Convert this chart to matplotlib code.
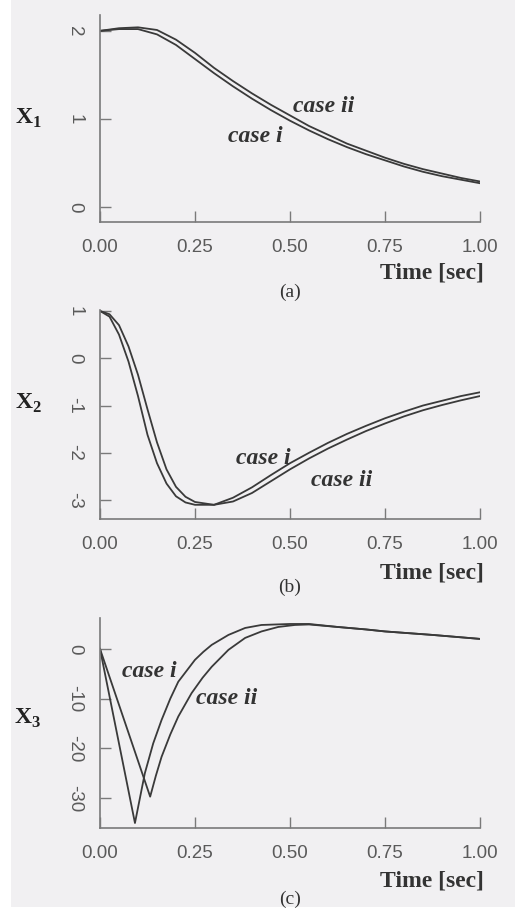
import matplotlib
matplotlib.use("Agg")
import matplotlib.pyplot as plt
from matplotlib.patches import Rectangle

# ----------------------------
# Data
# ----------------------------
t_a = [0.00, 0.05, 0.10, 0.15, 0.20, 0.25, 0.30, 0.35, 0.40, 0.45, 0.50,
       0.55, 0.60, 0.65, 0.70, 0.75, 0.80, 0.85, 0.90, 0.95, 1.00]
x1_case_i = [2.00, 2.02, 2.02, 1.96, 1.84, 1.68, 1.52, 1.37, 1.23, 1.10, 0.98,
             0.87, 0.77, 0.68, 0.60, 0.53, 0.46, 0.40, 0.35, 0.31, 0.27]
x1_case_ii = [2.00, 2.03, 2.04, 2.01, 1.90, 1.75, 1.58, 1.43, 1.29, 1.16, 1.04,
              0.92, 0.82, 0.72, 0.64, 0.56, 0.49, 0.43, 0.38, 0.33, 0.29]

t_b = [0.000, 0.025, 0.050, 0.075, 0.100, 0.125, 0.150, 0.175, 0.200, 0.225,
       0.250, 0.300, 0.350, 0.400, 0.450, 0.500, 0.550, 0.600, 0.650, 0.700,
       0.750, 0.800, 0.850, 0.900, 0.950, 1.000]
x2_case_i = [1.00, 0.88, 0.50, -0.07, -0.80, -1.62, -2.22, -2.65, -2.92, -3.05,
             -3.10, -3.10, -2.95, -2.73, -2.47, -2.22, -2.00, -1.79, -1.60, -1.43,
             -1.27, -1.13, -1.00, -0.90, -0.80, -0.72]
x2_case_ii = [1.00, 0.93, 0.70, 0.25, -0.35, -1.08, -1.78, -2.35, -2.72, -2.93,
              -3.04, -3.10, -3.03, -2.85, -2.60, -2.35, -2.12, -1.91, -1.72, -1.54,
              -1.38, -1.23, -1.10, -0.99, -0.89, -0.80]

t_c_i = [0.000, 0.092, 0.105, 0.118, 0.140, 0.162, 0.185, 0.206, 0.230, 0.250,
         0.272, 0.294, 0.338, 0.382, 0.425, 0.500, 0.550, 0.625, 0.700, 0.750,
         0.875, 1.000]
x3_case_i = [0.0, -35.0, -30.0, -25.0, -19.0, -14.3, -10.0, -6.6, -4.2, -2.2,
             -0.6, 0.8, 2.8, 4.2, 4.8, 5.0, 5.0, 4.4, 3.9, 3.5, 2.8, 2.0]
t_c_ii = [0.000, 0.132, 0.147, 0.162, 0.185, 0.206, 0.241, 0.270, 0.294, 0.338,
          0.382, 0.425, 0.469, 0.513, 0.550, 0.625, 0.700, 0.750, 0.875, 1.000]
x3_case_ii = [0.0, -29.7, -25.5, -21.7, -17.2, -13.6, -8.9, -5.8, -3.6, -0.2,
              2.2, 3.5, 4.4, 4.8, 4.9, 4.4, 3.9, 3.5, 2.8, 2.0]

x_ticks = [0.00, 0.25, 0.50, 0.75, 1.00]
x_ticklabels = ["0.00", "0.25", "0.50", "0.75", "1.00"]

# ----------------------------
# Plot styling
# ----------------------------
plt.rcParams.update(
    {
        "mathtext.fontset": "custom",
        "mathtext.rm": "Liberation Serif",
        "mathtext.bf": "Liberation Serif:bold",
    }
)

bg = "#f1f0f2"
line_col = "#3a3a3a"
axis_col = "#7a7a7a"
tick_col = "#5a5a5a"

fig = plt.figure(figsize=(5.15, 9.14), dpi=100, facecolor=bg)
# white scan margins
fig.add_artist(Rectangle((0, 0), 11 / 515, 1, transform=fig.transFigure,
                         facecolor="white", edgecolor="none", zorder=-1))
fig.add_artist(Rectangle((0, 0), 1, 7 / 914, transform=fig.transFigure,
                         facecolor="white", edgecolor="none", zorder=-1))

W, H = 515, 914


def px_axes(x0, y0, x1, y1):
    return fig.add_axes([x0 / W, 1 - y1 / H, (x1 - x0) / W, (y1 - y0) / H])


def style(ax, yticks, ylim, ylabel, ylab_y, xlab_y, tag, tag_y):
    ax.set_facecolor("none")
    ax.set_xlim(0, 1)
    ax.set_ylim(*ylim)
    for s in ["top", "right"]:
        ax.spines[s].set_visible(False)
    for s in ["left", "bottom"]:
        ax.spines[s].set_color(axis_col)
        ax.spines[s].set_linewidth(1.2)
    ax.set_xticks(x_ticks)
    ax.set_xticklabels(x_ticklabels)
    ax.set_yticks(yticks)
    ax.set_yticklabels([str(v) for v in yticks])
    ax.tick_params(direction="in", length=8, width=1.0, color=axis_col,
                   labelcolor=tick_col, labelsize=13.5, pad=12)
    for lab in ax.get_xticklabels() + ax.get_yticklabels():
        lab.set_family("Liberation Sans")
    plt.setp(ax.get_yticklabels(), rotation=-90, va="center", ha="right")
    fig.text(28 / W, 1 - ylab_y / H, ylabel, fontsize=17, color="#222222",
             ha="center", va="center")
    fig.text(484 / W, 1 - xlab_y / H, "Time [sec]", fontsize=17,
             family="Liberation Serif", weight="bold", color="#333333",
             ha="right", va="center")
    fig.text(290 / W, 1 - tag_y / H, tag, fontsize=14,
             family="Liberation Serif", color="#333333",
             ha="center", va="center")


label_kw = dict(fontsize=17, family="Liberation Serif", weight="bold",
                style="italic", color="#333333", ha="center", va="center")

# ----------------------------
# (a) X1
# ----------------------------
ax1 = px_axes(100, 15, 480, 222)
ax1.plot(t_a, x1_case_i, color=line_col, linewidth=1.3)
ax1.plot(t_a, x1_case_ii, color=line_col, linewidth=1.3)
ax1.text(0.589, 1.14, "case ii", **label_kw)
ax1.text(0.408, 0.80, "case i", **label_kw)
style(ax1, [0, 1, 2], (-0.17, 2.18), r"$\mathbf{X}_\mathbf{1}$", 118, 273, "(a)", 292)

# ----------------------------
# (b) X2
# ----------------------------
ax2 = px_axes(100, 310, 480, 519)
ax2.plot(t_b, x2_case_i, color=line_col, linewidth=1.3)
ax2.plot(t_b, x2_case_ii, color=line_col, linewidth=1.3)
ax2.text(0.43, -2.12, "case i", **label_kw)
ax2.text(0.637, -2.59, "case ii", **label_kw)
style(ax2, [1, 0, -1, -2, -3], (-3.4, 1.02), r"$\mathbf{X}_\mathbf{2}$", 403, 573, "(b)", 587)

# ----------------------------
# (c) X3
# ----------------------------
ax3 = px_axes(100, 618, 480, 828)
ax3.plot(t_c_i, x3_case_i, color=line_col, linewidth=1.3)
ax3.plot(t_c_ii, x3_case_ii, color=line_col, linewidth=1.3)
ax3.text(0.13, -4.6, "case i", **label_kw)
ax3.text(0.332, -10.0, "case ii", **label_kw)
style(ax3, [0, -10, -20, -30], (-36, 6.2), r"$\mathbf{X}_\mathbf{3}$", 718, 881, "(c)", 899)

fig.savefig("out.png", dpi=100, facecolor=bg)
